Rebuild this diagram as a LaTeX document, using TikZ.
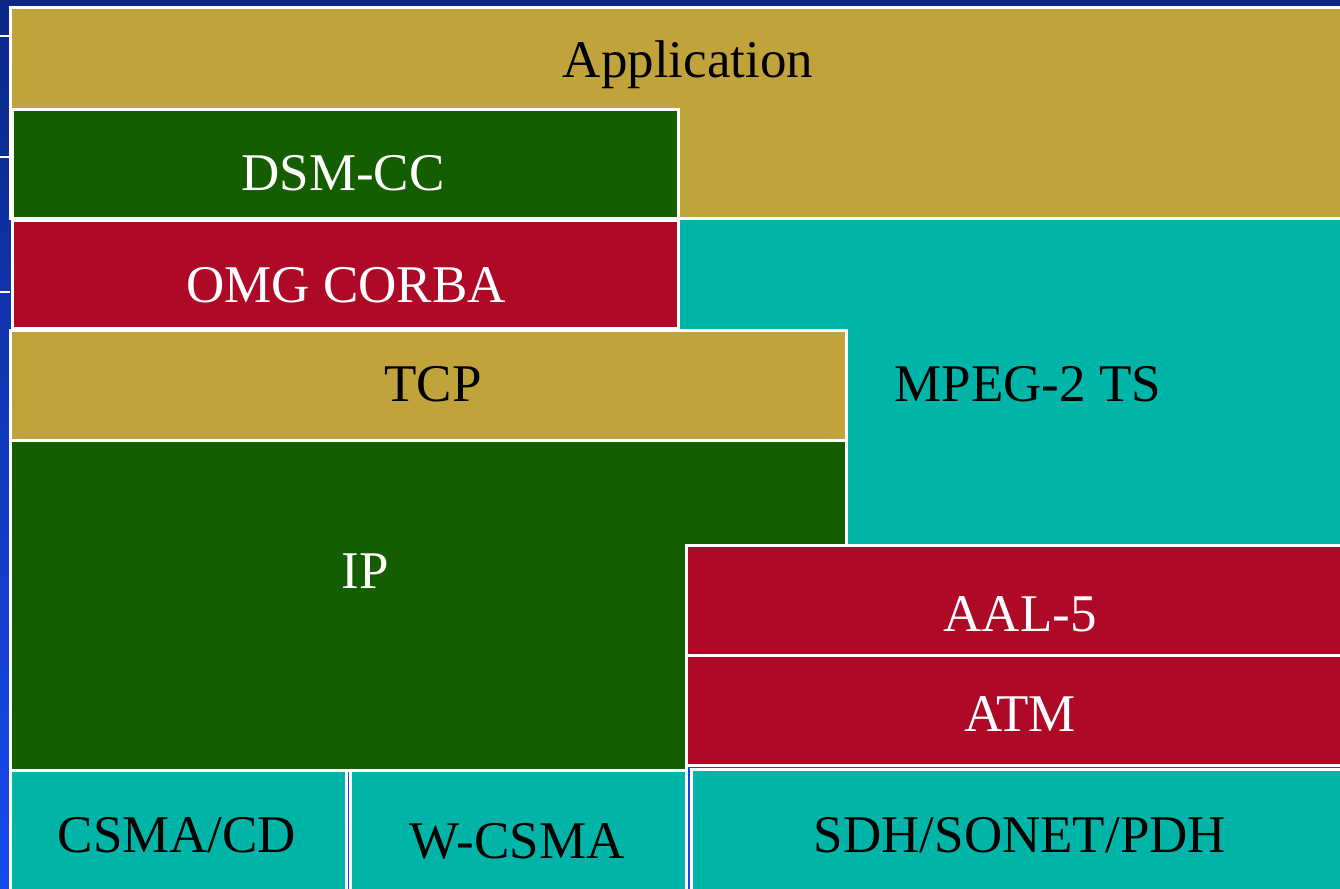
\documentclass[tikz,border=0pt]{standalone}
\usepackage{fontspec}
\setmainfont{Liberation Serif}
\usepackage{tikz}
\definecolor{layertan}{RGB}{193,163,60}
\definecolor{layergreen}{RGB}{20,94,0}
\definecolor{layerred}{RGB}{174,10,40}
\definecolor{layerteal}{RGB}{0,181,168}
\definecolor{slidetop}{RGB}{11,40,134}
\definecolor{slidebot}{RGB}{24,74,240}
\tikzset{
  layer/.style={draw=white,line width=3pt},
  lab/.style={anchor=base,font=\fontsize{53}{60}\selectfont,inner sep=0pt}
}
\begin{document}
\begin{tikzpicture}[x=1pt,y=-1pt]
    % slide background
    \useasboundingbox (0,0) rectangle (1340,888);
    \shade[top color=slidetop,bottom color=slidebot] (0,0) rectangle (1340,888);
    \foreach \yy in {36,157,292} {
        \draw[white,line width=1.5pt] (0,\yy) -- (10,\yy);
    }

    % upper layers
    \draw[layer,fill=layertan] (10,8) rectangle (1345,218);
    \draw[layer,fill=layerteal] (678,218) rectangle (1345,545);
    \draw[layer,fill=layergreen] (12,110) rectangle (678,218);
    \draw[layer,fill=layerred] (12,220) rectangle (678,328);
    \draw[layer,fill=layertan] (10,330) rectangle (846,440);
    \draw[layer,fill=layergreen] (10,440) -- (846,440) -- (846,545)
        -- (686,545) -- (686,770) -- (10,770) -- cycle;

    % ATM side
    \draw[layer,fill=layerred] (686,545) rectangle (1345,655);
    \draw[layer,fill=layerred] (686,655) rectangle (1345,765);

    % physical layers
    \draw[layer,fill=layerteal] (10,770) rectangle (346,895);
    \draw[layer,fill=layerteal] (350,770) rectangle (686,895);
    \draw[layer,fill=layerteal] (691,769) rectangle (1345,895);

    % labels
    \node[lab] (app) at (688,78) {Application};
    \node[lab,white] (dsmcc) at (343,190) {DSM-CC};
    \node[lab,white] (corba) at (346,302) {OMG CORBA};
    \node[lab] (tcp) at (433,401) {TCP};
    \node[lab] (mpeg) at (1028,401) {MPEG-2 TS};
    \node[lab,white] (ip) at (365,588) {IP};
    \node[lab,white] (aal) at (1020,631) {AAL-5};
    \node[lab,white] (atm) at (1020,731) {ATM};
    \node[lab] (csma) at (177,852) {CSMA/CD};
    \node[lab] (wcsma) at (517,858) {W-CSMA};
    \node[lab] (sdh) at (1020,852) {SDH/SONET/PDH};
\end{tikzpicture}
\end{document}
